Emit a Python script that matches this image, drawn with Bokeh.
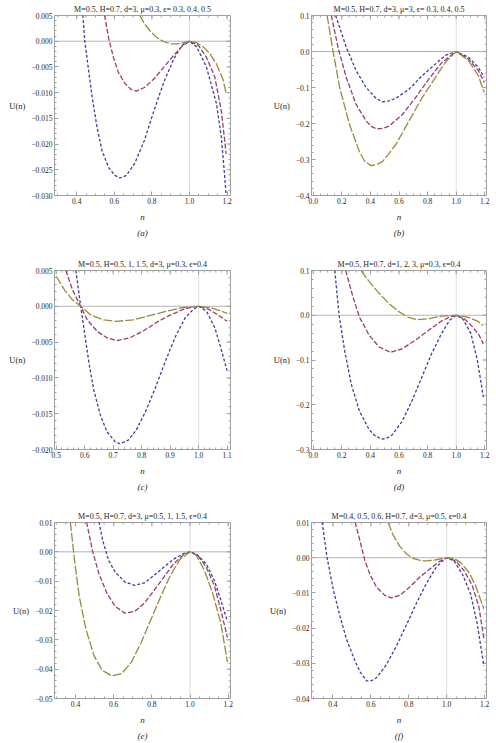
import numpy as np
from bokeh.plotting import figure
from bokeh.models import Range1d, FixedTicker, Span, Title
from bokeh.layouts import gridplot
from bokeh.embed import file_html
from bokeh.resources import INLINE

# ---------------- data ----------------
BLUE, PURPLE, GOLD = "#3f3d99", "#993d71", "#998b3d"

# (a)
A_TITLE = "M=0.5, H=0.7, d=3, μ=0.3, ϵ= 0.3, 0.4, 0.5"
A_N_BLUE = [0.433, 0.443, 0.461, 0.482, 0.508, 0.534, 0.569, 0.603, 0.630, 0.664, 0.708, 0.760, 0.812, 0.864, 0.917, 0.960, 1.000, 1.038, 1.090, 1.143, 1.169, 1.186, 1.195]
A_U_BLUE = [0.0051, 0.0, -0.0050, -0.0108, -0.0167, -0.0212, -0.0245, -0.0261, -0.0266, -0.0261, -0.0238, -0.0193, -0.0134, -0.0079, -0.0034, -0.0008, 0.0, -0.0011, -0.0050, -0.0121, -0.0186, -0.0258, -0.0300]
A_N_RED = [0.548, 0.569, 0.595, 0.621, 0.656, 0.690, 0.717, 0.760, 0.812, 0.864, 0.917, 0.960, 1.000, 1.047, 1.090, 1.134, 1.169, 1.195]
A_U_RED = [0.0051, 0.0008, -0.0031, -0.0060, -0.0082, -0.0094, -0.0097, -0.0090, -0.0073, -0.0050, -0.0027, -0.0010, 0.0, -0.0008, -0.0031, -0.0069, -0.0135, -0.0219]
A_N_GOLD = [0.734, 0.760, 0.795, 0.830, 0.864, 0.899, 0.934, 0.969, 1.000, 1.038, 1.073, 1.108, 1.143, 1.177, 1.195]
A_U_GOLD = [0.0051, 0.0034, 0.0018, 0.0006, -0.0001, -0.0005, -0.0005, -0.0003, 0.0, -0.0003, -0.0011, -0.0024, -0.0044, -0.0073, -0.0102]
A_XTICKS = [0.4, 0.6, 0.8, 1.0, 1.2]
A_XLABELS = ["0.4", "0.6", "0.8", "1.0", "1.2"]
A_YTICKS = [0.005, 0.0, -0.005, -0.010, -0.015, -0.020, -0.025, -0.030]
A_YLABELS = ["0.005", "0.000", "−0.005", "−0.010", "−0.015", "−0.020", "−0.025", "−0.030"]

# (b)
B_TITLE = "M=0.5, H=0.7, d=3, μ=3, ϵ= 0.3, 0.4, 0.5"
B_N_BLUE = [0.157, 0.231, 0.300, 0.370, 0.439, 0.485, 0.530, 0.577, 0.670, 0.762, 0.855, 0.924, 1.000, 1.085, 1.155, 1.196]
B_U_BLUE = [0.100, 0.012, -0.053, -0.100, -0.130, -0.140, -0.137, -0.130, -0.105, -0.067, -0.035, -0.011, 0.0, -0.016, -0.044, -0.072]
B_N_RED = [0.127, 0.173, 0.231, 0.300, 0.370, 0.405, 0.443, 0.490, 0.531, 0.624, 0.716, 0.808, 0.901, 1.000, 1.085, 1.155, 1.196]
B_U_RED = [0.100, 0.012, -0.072, -0.147, -0.193, -0.208, -0.215, -0.213, -0.207, -0.175, -0.128, -0.077, -0.030, 0.0, -0.021, -0.053, -0.086]
B_N_GOLD = [0.097, 0.139, 0.185, 0.254, 0.323, 0.358, 0.404, 0.450, 0.485, 0.577, 0.670, 0.762, 0.855, 0.924, 1.000, 1.085, 1.155, 1.196]
B_U_GOLD = [0.100, 0.0, -0.100, -0.203, -0.278, -0.304, -0.317, -0.313, -0.306, -0.259, -0.193, -0.128, -0.072, -0.030, 0.0, -0.025, -0.067, -0.114]
B_XTICKS = [0.0, 0.2, 0.4, 0.6, 0.8, 1.0, 1.2]
B_XLABELS = ["0.0", "0.2", "0.4", "0.6", "0.8", "1.0", "1.2"]
B_YTICKS = [0.1, 0.0, -0.1, -0.2, -0.3, -0.4]
B_YLABELS = ["0.1", "0.0", "−0.1", "−0.2", "−0.3", "−0.4"]

# (c)
C_TITLE = "M=0.5, H=0.5, 1, 1.5, d=3, μ=0.3, ϵ=0.4"
C_N_BLUE = [0.569, 0.586, 0.598, 0.615, 0.632, 0.655, 0.678, 0.707, 0.724, 0.753, 0.781, 0.816, 0.850, 0.885, 0.919, 0.953, 0.982, 1.000, 1.028, 1.057, 1.080, 1.100]
C_U_BLUE = [0.0050, 0.0, -0.0033, -0.0079, -0.0117, -0.0152, -0.0175, -0.0189, -0.0192, -0.0187, -0.0173, -0.0145, -0.0112, -0.0075, -0.0042, -0.0016, -0.0004, 0.0, -0.0007, -0.0030, -0.0061, -0.0090]
C_N_RED = [0.534, 0.557, 0.586, 0.609, 0.644, 0.678, 0.712, 0.758, 0.804, 0.850, 0.896, 0.942, 0.976, 1.000, 1.034, 1.068, 1.100]
C_U_RED = [0.0050, 0.0023, 0.0, -0.0019, -0.0035, -0.0044, -0.0048, -0.0044, -0.0035, -0.0023, -0.0013, -0.0005, -0.0001, 0.0, -0.0004, -0.0012, -0.0021]
C_N_GOLD = [0.500, 0.529, 0.557, 0.586, 0.621, 0.666, 0.712, 0.770, 0.827, 0.885, 0.942, 1.000, 1.045, 1.074, 1.100]
C_U_GOLD = [0.0042, 0.0023, 0.0009, 0.0, -0.0012, -0.0019, -0.0021, -0.0019, -0.0013, -0.0007, -0.0002, 0.0, -0.0002, -0.0006, -0.0010]
C_XTICKS = [0.5, 0.6, 0.7, 0.8, 0.9, 1.0, 1.1]
C_XLABELS = ["0.5", "0.6", "0.7", "0.8", "0.9", "1.0", "1.1"]
C_YTICKS = [0.005, 0.0, -0.005, -0.010, -0.015, -0.020]
C_YLABELS = ["0.005", "0.000", "−0.005", "−0.010", "−0.015", "−0.020"]

# (d)
D_TITLE = "M=0.5, H=0.7, d=1, 2, 3, μ=0.3, ϵ=0.4"
D_N_BLUE = [0.151, 0.181, 0.220, 0.266, 0.323, 0.392, 0.427, 0.479, 0.518, 0.553, 0.622, 0.690, 0.759, 0.828, 0.897, 0.954, 1.000, 1.046, 1.103, 1.149, 1.190]
D_U_BLUE = [0.100, 0.0, -0.079, -0.154, -0.214, -0.256, -0.268, -0.277, -0.274, -0.267, -0.237, -0.192, -0.139, -0.086, -0.041, -0.011, 0.0, -0.008, -0.041, -0.102, -0.183]
D_N_RED = [0.227, 0.278, 0.323, 0.392, 0.461, 0.541, 0.622, 0.713, 0.805, 0.897, 0.954, 1.000, 1.057, 1.115, 1.161, 1.190]
D_U_RED = [0.100, 0.041, -0.004, -0.045, -0.071, -0.083, -0.075, -0.056, -0.034, -0.013, -0.004, 0.0, -0.008, -0.026, -0.045, -0.064]
D_N_GOLD = [0.335, 0.392, 0.461, 0.530, 0.599, 0.667, 0.725, 0.805, 0.897, 1.000, 1.080, 1.149, 1.190]
D_U_GOLD = [0.100, 0.075, 0.049, 0.026, 0.008, -0.005, -0.010, -0.008, -0.002, 0.0, -0.004, -0.013, -0.023]
D_XTICKS = B_XTICKS
D_XLABELS = B_XLABELS
D_YTICKS = [0.1, 0.0, -0.1, -0.2, -0.3]
D_YLABELS = ["0.1", "0.0", "−0.1", "−0.2", "−0.3"]

# (e)
E_TITLE = "M=0.5, H=0.7, d=3, μ=0.5, 1, 1.5, ϵ=0.4"
E_N_BLUE = [0.523, 0.543, 0.574, 0.608, 0.659, 0.710, 0.761, 0.812, 0.863, 0.914, 0.966, 1.000, 1.034, 1.085, 1.127, 1.161, 1.196]
E_U_BLUE = [0.0102, 0.0037, -0.0030, -0.0069, -0.0103, -0.0114, -0.0106, -0.0080, -0.0052, -0.0025, -0.0006, 0.0, -0.0008, -0.0041, -0.0097, -0.0164, -0.0237]
E_N_RED = [0.458, 0.489, 0.523, 0.565, 0.608, 0.659, 0.710, 0.761, 0.812, 0.863, 0.914, 0.966, 1.000, 1.042, 1.085, 1.127, 1.161, 1.196]
E_U_RED = [0.0102, 0.0003, -0.0075, -0.0142, -0.0186, -0.0209, -0.0203, -0.0175, -0.0131, -0.0086, -0.0041, -0.0010, 0.0, -0.0013, -0.0052, -0.0114, -0.0198, -0.0292]
E_N_GOLD = [0.373, 0.395, 0.420, 0.455, 0.497, 0.540, 0.591, 0.642, 0.693, 0.744, 0.795, 0.846, 0.897, 0.948, 1.000, 1.034, 1.076, 1.119, 1.161, 1.196]
E_U_GOLD = [0.0102, -0.0030, -0.0153, -0.0265, -0.0354, -0.0404, -0.0423, -0.0415, -0.0376, -0.0309, -0.0231, -0.0153, -0.0080, -0.0025, 0.0, -0.0013, -0.0064, -0.0142, -0.0242, -0.0376]
E_XTICKS = A_XTICKS
E_XLABELS = A_XLABELS
E_YTICKS = [0.01, 0.0, -0.01, -0.02, -0.03, -0.04, -0.05]
E_YLABELS = ["0.01", "0.00", "−0.01", "−0.02", "−0.03", "−0.04", "−0.05"]

# (f)
F_TITLE = "M=0.4, 0.5, 0.6, H=0.7, d=3, μ=0.5, ϵ=0.4"
F_N_BLUE = [0.343, 0.369, 0.403, 0.438, 0.473, 0.517, 0.545, 0.578, 0.605, 0.630, 0.682, 0.734, 0.787, 0.839, 0.891, 0.944, 0.978, 1.000, 1.039, 1.083, 1.126, 1.161, 1.196]
F_U_BLUE = [0.0101, 0.0, -0.0093, -0.0168, -0.0234, -0.0294, -0.0326, -0.0350, -0.0349, -0.0341, -0.0304, -0.0252, -0.0192, -0.0131, -0.0075, -0.0028, -0.0009, 0.0, -0.0009, -0.0047, -0.0103, -0.0187, -0.0308]
F_N_RED = [0.517, 0.543, 0.569, 0.595, 0.630, 0.674, 0.708, 0.752, 0.804, 0.856, 0.909, 0.961, 1.000, 1.048, 1.092, 1.135, 1.170, 1.196]
F_U_RED = [0.0101, 0.0047, -0.0009, -0.0047, -0.0084, -0.0107, -0.0114, -0.0107, -0.0084, -0.0056, -0.0033, -0.0011, 0.0, -0.0009, -0.0037, -0.0079, -0.0140, -0.0229]
F_N_GOLD = [0.691, 0.717, 0.752, 0.787, 0.822, 0.856, 0.891, 0.935, 0.970, 1.000, 1.039, 1.074, 1.118, 1.152, 1.196]
F_U_GOLD = [0.0101, 0.0065, 0.0033, 0.0011, -0.0002, -0.0007, -0.0009, -0.0007, -0.0003, 0.0, -0.0002, -0.0014, -0.0042, -0.0079, -0.0145]
F_XTICKS = A_XTICKS
F_XLABELS = A_XLABELS
F_YTICKS = [0.01, 0.0, -0.01, -0.02, -0.03, -0.04]
F_YLABELS = ["0.01", "0.00", "−0.01", "−0.02", "−0.03", "−0.04"]

# ---------------- styling ----------------
FONT = "Liberation Serif"
FRAME = "#a0a0a0"
TXT = "#262626"
DASHES = {BLUE: "3 2", PURPLE: "5 2", GOLD: "9 2"}


def minor_list(ticks, sub, lo, hi):
    t = sorted(ticks)
    step = (t[1] - t[0]) / sub
    kmin = int(np.floor((lo - t[0]) / step)) - 1
    kmax = int(np.ceil((hi - t[0]) / step)) + 1
    out = []
    for k in range(kmin, kmax + 1):
        v = t[0] + k * step
        if lo - 1e-12 <= v <= hi + 1e-12:
            out.append(round(v, 10))
    return out


def n_sub(ticks):
    t = sorted(ticks)
    return 4 if abs((t[1] - t[0]) - 0.2) < 1e-9 else 5


def style_axis(ax, ticks, labels, lo, hi):
    ax.ticker = FixedTicker(ticks=list(ticks), minor_ticks=minor_list(ticks, n_sub(ticks), lo, hi))
    ax.axis_line_color = None
    ax.major_tick_in = 4
    ax.major_tick_out = 0
    ax.minor_tick_in = 2
    ax.minor_tick_out = 0
    ax.major_tick_line_color = FRAME
    ax.minor_tick_line_color = FRAME
    ax.major_label_overrides = {float(v): s for v, s in zip(ticks, labels)}
    ax.major_label_text_font = FONT
    ax.major_label_text_font_size = "7.5px"
    ax.major_label_text_color = TXT
    ax.major_label_standoff = 2


def panel(title, caption, xr, yr, xt, xl, yt, yl, curves, bl, br, h, bt, bb):
    p = figure(width=248, height=h, x_range=Range1d(*xr), y_range=Range1d(*yr),
               output_backend="svg", toolbar_location=None, title=None,
               min_border_left=bl, min_border_right=br,
               min_border_top=bt, min_border_bottom=bb)
    p.outline_line_color = FRAME
    p.xgrid.visible = False
    p.ygrid.visible = False

    bottom = p.below[0]
    left = p.left[0]
    style_axis(bottom, xt, xl, xr[0], xr[1])
    style_axis(left, yt, yl, yr[0], yr[1])
    bottom.axis_label = "n"
    bottom.axis_label_text_font = FONT
    bottom.axis_label_text_font_style = "italic"
    bottom.axis_label_text_font_size = "9px"
    bottom.axis_label_text_color = TXT
    bottom.axis_label_standoff = 5
    left.axis_label = "U(n)"
    left.axis_label_text_font = FONT
    left.axis_label_text_font_style = "normal"
    left.axis_label_text_font_size = "8.5px"
    left.axis_label_text_color = TXT
    left.axis_label_standoff = 3
    try:
        left.axis_label_orientation = "horizontal"
    except Exception:
        pass

    # mirrored frame ticks on the top and right edges
    xmin = minor_list(xt, n_sub(xt), xr[0], xr[1])
    ymin = minor_list(yt, n_sub(yt), yr[0], yr[1])
    p.ray(x=list(xt), y=[yr[1]] * len(xt), length=4, length_units="screen", angle=-np.pi / 2,
          line_color=FRAME, line_width=1)
    p.ray(x=xmin, y=[yr[1]] * len(xmin), length=2, length_units="screen", angle=-np.pi / 2,
          line_color=FRAME, line_width=1)
    p.ray(x=[xr[1]] * len(yt), y=list(yt), length=4, length_units="screen", angle=np.pi,
          line_color=FRAME, line_width=1)
    p.ray(x=[xr[1]] * len(ymin), y=ymin, length=2, length_units="screen", angle=np.pi,
          line_color=FRAME, line_width=1)

    p.add_layout(Title(text=title, align="center", text_font=FONT, text_font_size="8px",
                       text_font_style="normal", text_color=TXT, standoff=3), "above")
    p.add_layout(Title(text=caption, align="center", text_font=FONT, text_font_size="9px",
                       text_font_style="italic", text_color=TXT, standoff=3), "below")

    p.add_layout(Span(location=0, dimension="width", line_color="#b4b4b4", line_width=1, level="underlay"))
    p.add_layout(Span(location=1.0, dimension="height", line_color="#dedede", line_width=1, level="underlay"))

    for n, u, c in curves:
        p.line(n, u, line_color=c, line_width=1.3, line_dash=DASHES[c])
    return p


# row geometry: (height, top border, bottom border)
ROW1 = (250, 15, 55)
ROW2 = (250, 20, 51)
ROW3 = (242, 22, 39)

pa = panel(A_TITLE, "(a)", (0.282, 1.218), (-0.030, 0.005), A_XTICKS, A_XLABELS, A_YTICKS, A_YLABELS,
           [(A_N_BLUE, A_U_BLUE, BLUE), (A_N_RED, A_U_RED, PURPLE), (A_N_GOLD, A_U_GOLD, GOLD)], 53, 16, *ROW1)
pb = panel(B_TITLE, "(b)", (-0.012, 1.212), (-0.4, 0.1), B_XTICKS, B_XLABELS, B_YTICKS, B_YLABELS,
           [(B_N_BLUE, B_U_BLUE, BLUE), (B_N_RED, B_U_RED, PURPLE), (B_N_GOLD, B_U_GOLD, GOLD)], 60, 10, *ROW1)
pc = panel(C_TITLE, "(c)", (0.494, 1.112), (-0.020, 0.005), C_XTICKS, C_XLABELS, C_YTICKS, C_YLABELS,
           [(C_N_BLUE, C_U_BLUE, BLUE), (C_N_RED, C_U_RED, PURPLE), (C_N_GOLD, C_U_GOLD, GOLD)], 54, 16, *ROW2)
pd_ = panel(D_TITLE, "(d)", (-0.012, 1.212), (-0.3, 0.1), D_XTICKS, D_XLABELS, D_YTICKS, D_YLABELS,
            [(D_N_BLUE, D_U_BLUE, BLUE), (D_N_RED, D_U_RED, PURPLE), (D_N_GOLD, D_U_GOLD, GOLD)], 60, 10, *ROW2)
pe = panel(E_TITLE, "(e)", (0.29, 1.212), (-0.05, 0.01), E_XTICKS, E_XLABELS, E_YTICKS, E_YLABELS,
           [(E_N_BLUE, E_U_BLUE, BLUE), (E_N_RED, E_U_RED, PURPLE), (E_N_GOLD, E_U_GOLD, GOLD)], 50, 18, *ROW3)
pf = panel(F_TITLE, "(f)", (0.287, 1.21), (-0.04, 0.01), F_XTICKS, F_XLABELS, F_YTICKS, F_YLABELS,
           [(F_N_BLUE, F_U_BLUE, BLUE), (F_N_RED, F_U_RED, PURPLE), (F_N_GOLD, F_U_GOLD, GOLD)], 63, 10, *ROW3)

grid = gridplot([[pa, pb], [pc, pd_], [pe, pf]], toolbar_location=None)

open("out.html", "w", encoding="utf-8").write(file_html(grid, INLINE))
